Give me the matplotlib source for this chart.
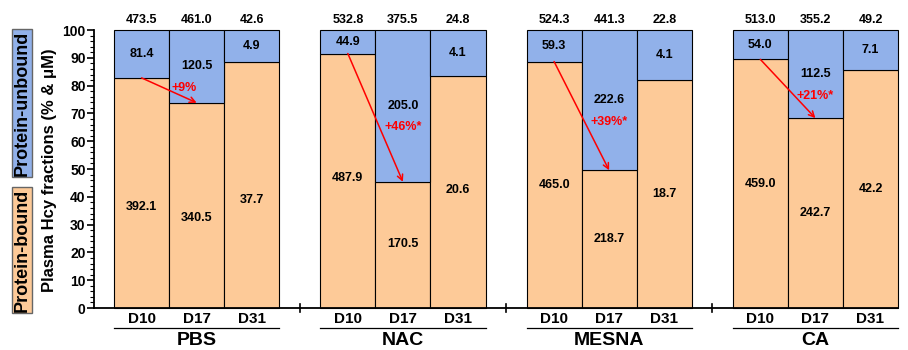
import numpy as np
import matplotlib
matplotlib.use("Agg")
import matplotlib.pyplot as plt
from matplotlib.ticker import MultipleLocator

plt.rcParams['font.family'] = ['Liberation Sans', 'DejaVu Sans']
plt.rcParams['font.weight'] = 'bold'

groups = ["PBS", "NAC", "MESNA", "CA"]
days = ["D10", "D17", "D31"]
bound = [[392.1, 340.5, 37.7],
         [487.9, 170.5, 20.6],
         [465.0, 218.7, 18.7],
         [459.0, 242.7, 42.2]]
unbound = [[81.4, 120.5, 4.9],
           [44.9, 205.0, 4.1],
           [59.3, 222.6, 4.1],
           [54.0, 112.5, 7.1]]
totals = [[473.5, 461.0, 42.6],
          [532.8, 375.5, 24.8],
          [524.3, 441.3, 22.8],
          [513.0, 355.2, 49.2]]
changes = ["+9%", "+46%*", "+39%*", "+21%*"]

c_bound = "#FDCA98"
c_unbound = "#91B1EA"
gap = 0.745
step = 3 + gap
bound_lab_frac = [0.44, 0.51, 0.5, 0.5]

fig = plt.figure(figsize=(9.08, 3.5), dpi=100)
ax = fig.add_axes([0.1035, 0.12, 0.8855, 0.794])

for g, grp in enumerate(groups):
    x0 = g * step
    xs = x0 + np.arange(3) + 0.5
    b = np.array(bound[g])
    u = np.array(unbound[g])
    pb = b / (b + u) * 100
    ax.bar(xs, pb, width=1, color=c_bound, edgecolor="black", linewidth=0.8, clip_on=False)
    ax.bar(xs, 100 - pb, bottom=pb, width=1, color=c_unbound, edgecolor="black", linewidth=0.8, clip_on=False)
    for i in range(3):
        ax.text(xs[i], 103.6, f"{totals[g][i]:.1f}", ha="center", va="center", fontsize=9)
        ax.text(xs[i], (pb[i] + 100) / 2, f"{u[i]:.1f}", ha="center", va="center", fontsize=9)
        ax.text(xs[i], pb[i] * bound_lab_frac[g], f"{b[i]:.1f}", ha="center", va="center", fontsize=9)
        ax.text(xs[i], -3.8, days[i], ha="center", va="center", fontsize=11, clip_on=False)
    # change arrow D10 -> D17
    ax.annotate("", xy=(xs[1], pb[1]), xytext=(xs[0], pb[0]),
                arrowprops=dict(arrowstyle="->", color="red", lw=1.1, shrinkA=0, shrinkB=0,
                                mutation_scale=10))
    ax.text(xs[1] - (0.22 if g == 0 else 0), (pb[1] + 100) / 2 - 7.7, changes[g], color="red",
            ha="center", va="center", fontsize=9)
    ax.plot([x0, x0 + 3], [-7.2, -7.2], color="black", lw=0.9, clip_on=False)
    ax.text(x0 + 1.5, -11.6, grp, ha="center", va="center", fontsize=14, clip_on=False)
    if g < len(groups) - 1:
        xs_sep = x0 + 3 + gap / 2
        ax.plot([xs_sep, xs_sep], [-1.45, 1.45], color="black", lw=1.2, clip_on=False)

ax.set_xlim(-0.364, 3 * step + 3)
ax.set_ylim(0, 100)
ax.spines["top"].set_visible(False)
ax.spines["right"].set_visible(False)
ax.spines["left"].set_linewidth(1.3)
ax.spines["bottom"].set_linewidth(1.3)
ax.set_xticks([])
ax.yaxis.set_major_locator(MultipleLocator(10))
ax.yaxis.set_minor_locator(MultipleLocator(2))
ax.tick_params(axis="y", which="major", length=5, width=1.2, labelsize=10, pad=1)
ax.tick_params(axis="y", which="minor", length=3, width=0.8)
for t in ax.get_yticklabels():
    t.set_fontweight("bold")

fig.text(0.055, 0.514, "Plasma Hcy fractions (% & \u03bcM)", rotation=90, ha="center", va="center",
         fontsize=12)
fig.text(0.024, 0.706, "Protein-unbound", rotation=90, ha="center", va="center", fontsize=13,
         bbox=dict(boxstyle="square,pad=0.08", facecolor=c_unbound, edgecolor="#666666", lw=1))
fig.text(0.024, 0.285, "Protein-bound", rotation=90, ha="center", va="center", fontsize=13,
         bbox=dict(boxstyle="square,pad=0.08", facecolor=c_bound, edgecolor="#666666", lw=1))

fig.savefig("out.png", dpi=100)
